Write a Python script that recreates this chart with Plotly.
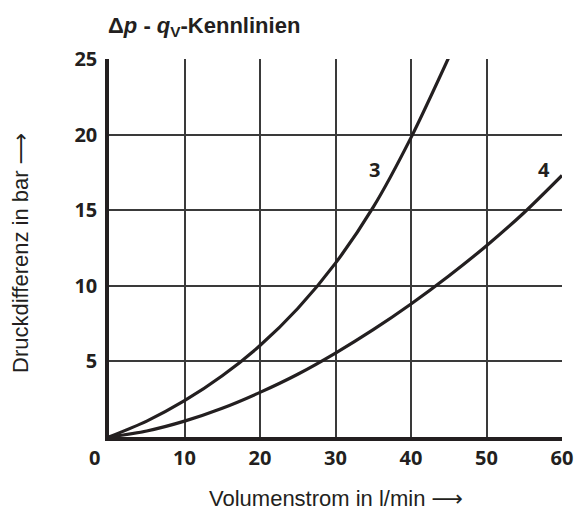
import plotly.graph_objects as go

# Data
flow_3 = [0, 5, 10, 15, 20, 25, 30, 35, 40, 45]
dp_3 = [0, 1.05, 2.4, 4.05, 6.05, 8.5, 11.5, 15.2, 19.8, 25.1]

flow_4 = [0, 5, 10, 15, 20, 25, 30, 35, 40, 45, 50, 55, 60]
dp_4 = [0, 0.4, 1.05, 1.9, 2.95, 4.15, 5.55, 7.1, 8.8, 10.65, 12.65, 14.85, 17.3]

x_ticks = [10, 20, 30, 40, 50, 60]
y_ticks = [5, 10, 15, 20, 25]
curve_labels = ["3", "4"]
label_pos_x = [35.1, 57.6]
label_pos_y = [17.7, 17.7]

ARROW = '<span style="font-family:DejaVu Sans">⟶</span>'
title_html = "Δ<i>p</i> - <i>q</i><sub>V</sub>-Kennlinien"
x_title = "Volumenstrom in l/min " + ARROW
y_title = "Druckdifferenz in bar " + ARROW

tick_font = dict(family="Open Sans", size=20, color="#231f20")
label_font = dict(family="Liberation Sans", size=22, color="#231f20")
line_col = "#231f20"
grid_col = "#3a3a3a"

W, H = 575, 510
ML, MT, MR, MB = 109, 59, 13, 73

fig = go.Figure()
fig.add_trace(go.Scatter(x=flow_3, y=dp_3, mode="lines", line=dict(color=line_col, width=3.2, shape="spline", smoothing=0.8), showlegend=False, hoverinfo="skip"))
fig.add_trace(go.Scatter(x=flow_4, y=dp_4, mode="lines", line=dict(color=line_col, width=3.2, shape="spline", smoothing=0.8), showlegend=False, hoverinfo="skip"))

for t, xx, yy in zip(curve_labels, label_pos_x, label_pos_y):
    fig.add_annotation(x=xx, y=yy, text="<b>%s</b>" % t, showarrow=False, font=tick_font)

fig.add_annotation(x=0, y=0, xref="x", yref="y", text="<b>0</b>", showarrow=False,
                   font=tick_font, xshift=-15, yshift=-20)

# axis titles
fig.add_annotation(x=0.5, y=0, xref="paper", yref="paper", text=x_title, showarrow=False,
                   font=label_font, xanchor="center", yanchor="middle", xshift=0, yshift=-61)
fig.add_annotation(x=0, y=0.5, xref="paper", yref="paper", text=y_title, showarrow=False,
                   font=label_font, textangle=-90, xanchor="center", yanchor="middle", xshift=-89, yshift=-5)

fig.update_layout(
    width=W, height=H,
    margin=dict(l=ML, r=MR, t=MT, b=MB, autoexpand=False),
    paper_bgcolor="white", plot_bgcolor="white",
    title=dict(text="<b>" + title_html + "</b>", x=108/W, xanchor="left", y=1-25/H, yanchor="middle",
               font=dict(family="Liberation Sans", size=22, color="#231f20")),
    xaxis=dict(range=[0, 60], tickvals=x_ticks, ticktext=["<b>%d</b>" % v for v in x_ticks],
               tickfont=tick_font, showgrid=True, gridcolor=grid_col, gridwidth=1.6,
               showline=True, linecolor=line_col, linewidth=3.5, zeroline=False,
               ticks="", automargin=False,
               fixedrange=True),
    yaxis=dict(range=[0, 25], tickvals=y_ticks, ticktext=["<b>%d</b>" % v for v in y_ticks],
               tickfont=tick_font, showgrid=True, gridcolor=grid_col, gridwidth=1.6,
               showline=True, linecolor=line_col, linewidth=3.5, zeroline=False,
               ticks="outside", ticklen=4, tickcolor="rgba(0,0,0,0)", automargin=False,
               fixedrange=True),
)

fig.write_html("out.html", config={"displayModeBar": False},
               post_script="document.body.style.margin='0';document.body.style.overflow='hidden';")
